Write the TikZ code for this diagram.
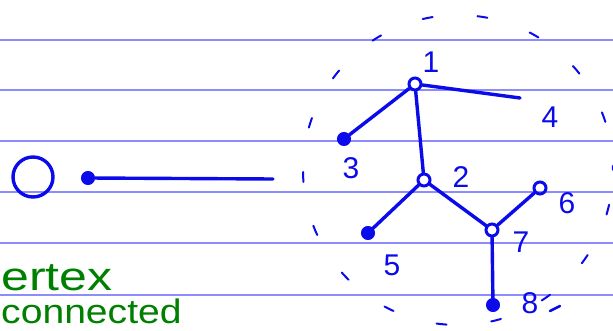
\documentclass[tikz,border=0pt]{standalone}
\usepackage{fontspec}
\setmainfont{Liberation Sans}
\definecolor{ink}{RGB}{10,10,235}
\definecolor{rule}{RGB}{140,140,255}
\definecolor{gink}{RGB}{0,128,0}
\begin{document}
\begin{tikzpicture}[x=1pt,y=-1pt,
  pen/.style={draw=ink,line width=3.4pt,line cap=round,line join=round},
  opendot/.style={circle,draw=ink,line width=3pt,minimum size=12pt,inner sep=0pt},
  fulldot/.style={circle,fill=ink,draw=ink,line width=1pt,minimum size=13pt,inner sep=0pt},
  lab/.style={text=ink,font=\fontsize{30}{30}\selectfont,inner sep=0pt},
  gtext/.style={text=gink,font=\fontsize{40}{40}\selectfont,inner sep=0pt,anchor=base west}]
\useasboundingbox (0,0) rectangle (613,331);
\clip (0,0) rectangle (613,331);
\fill[white] (0,0) rectangle (613,331);
% ruled lines
\foreach \y in {40,90,141,192,243,295}
  \draw[rule,line width=1.2pt] (0,\y) -- (613,\y);
% dashed boundary
\draw[ink,line width=2pt,line cap=round,dash pattern=on 10pt off 45pt,dash phase=20pt] (458,170) circle (155);
% left examples
\node[circle,draw=ink,line width=3.4pt,minimum size=40pt,inner sep=0pt] (big) at (33,177) {};
\node[fulldot] (dot) at (88,178) {};
\coordinate (dotend) at (273,179);
\draw[pen] (dot) -- (dotend);
% tree
\node[opendot] (n1) at (415,84) {};
\coordinate (n4) at (520,98);
\node[fulldot] (n3) at (344,139) {};
\node[opendot] (n2) at (424,180) {};
\node[fulldot] (n5) at (368,233) {};
\node[opendot] (n7) at (492,230) {};
\node[opendot] (n6) at (540,188) {};
\node[fulldot] (n8) at (493,305) {};
\draw[pen] (n1) -- (n4);
\draw[pen] (n1) -- (n3);
\draw[pen] (n1) -- (n2);
\draw[pen] (n2) -- (n5);
\draw[pen] (n2) -- (n7);
\draw[pen] (n7) -- (n6);
\draw[pen] (n7) -- (n8);
% labels
\node[lab] (l1) at (431,62) {1};
\node[lab] (l2) at (461,177) {2};
\node[lab] (l3) at (351,168) {3};
\node[lab] (l4) at (550,117) {4};
\node[lab] (l5) at (392,265) {5};
\node[lab] (l6) at (567,203) {6};
\node[lab] (l7) at (521,242) {7};
\node[lab] (l8) at (530,303) {8};
\coordinate (d8a) at (550,311);
\coordinate (d8b) at (560,306);
\draw[ink,line width=2.6pt,line cap=round] (d8a) -- (d8b);
% green words
\node[gtext,xscale=1.25] (w1) at (1,290) {ertex};
\node[gtext,xscale=1.15,font=\fontsize{34}{34}\selectfont] (w2) at (1,323) {connected};
\end{tikzpicture}
\end{document}
